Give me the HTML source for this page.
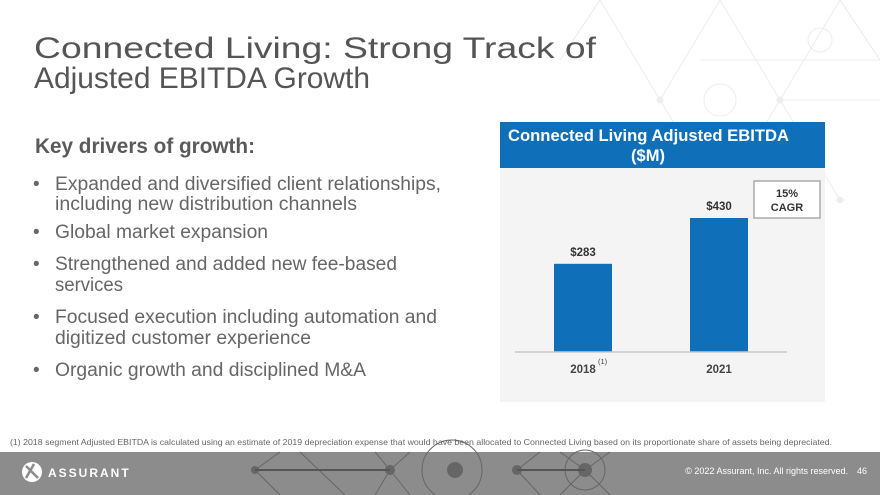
<!DOCTYPE html>
<html><head><meta charset="utf-8"><style>
html,body{margin:0;padding:0;background:#fff;}
svg{display:block;font-family:"Liberation Sans",sans-serif;}
</style></head><body>
<svg width="880" height="495" viewBox="0 0 880 495">
<g stroke="#ededed" stroke-width="1" fill="none">
<path d="M600 0 L660 100 L720 0 M660 100 L720 200 L780 100 L840 200 M720 0 L780 100 L840 0 L880 60 M780 100 L880 100 M700 60 L880 60 M600 0 L560 60"/>
<circle cx="720" cy="100" r="16"/><circle cx="820" cy="40" r="12"/>
<circle cx="660" cy="100" r="3" fill="#ededed"/><circle cx="780" cy="100" r="3" fill="#ededed"/><circle cx="840" cy="200" r="3" fill="#ededed"/>
</g>
<g fill="#555" font-size="30">
<text x="34" y="58" textLength="562" lengthAdjust="spacingAndGlyphs">Connected Living: Strong Track of</text>
<text x="34" y="88" textLength="336" lengthAdjust="spacingAndGlyphs">Adjusted EBITDA Growth</text>
</g>
<text x="35" y="153" font-size="21" font-weight="bold" fill="#5a5a5a" textLength="220" lengthAdjust="spacingAndGlyphs">Key drivers of growth:</text>
<g fill="#666" font-size="19">
<text x="33" y="190">•</text><text x="55" y="190" textLength="386" lengthAdjust="spacingAndGlyphs">Expanded and diversified client relationships,</text>
<text x="55" y="210" textLength="302" lengthAdjust="spacingAndGlyphs">including new distribution channels</text>
<text x="33" y="238">•</text><text x="55" y="238" textLength="213" lengthAdjust="spacingAndGlyphs">Global market expansion</text>
<text x="33" y="270">•</text><text x="55" y="270" textLength="342" lengthAdjust="spacingAndGlyphs">Strengthened and added new fee-based</text>
<text x="55" y="291" textLength="68" lengthAdjust="spacingAndGlyphs">services</text>
<text x="33" y="323">•</text><text x="55" y="323" textLength="382" lengthAdjust="spacingAndGlyphs">Focused execution including automation and</text>
<text x="55" y="344" textLength="256" lengthAdjust="spacingAndGlyphs">digitized customer experience</text>
<text x="33" y="376">•</text><text x="55" y="376" textLength="311" lengthAdjust="spacingAndGlyphs">Organic growth and disciplined M&amp;A</text>
</g>
<g>
<rect x="500" y="168" width="325" height="234" fill="#f4f4f4"/>
<rect x="500" y="122" width="325" height="46" fill="#0f6fb9"/>
<text x="508" y="141" font-size="16.5" font-weight="bold" fill="#fff" textLength="281" lengthAdjust="spacingAndGlyphs">Connected Living Adjusted EBITDA</text>
<text x="648" y="161" font-size="16.5" font-weight="bold" fill="#fff" text-anchor="middle">($M)</text>
<rect x="754" y="181" width="66" height="37" fill="#fff" stroke="#aaa" stroke-width="1.5"/>
<text x="787" y="197" font-size="11" font-weight="bold" fill="#333" text-anchor="middle">15%</text>
<text x="787" y="211" font-size="11" font-weight="bold" fill="#333" text-anchor="middle">CAGR</text>
<g id="bars"></g>
<line x1="515" y1="352" x2="787" y2="352" stroke="#c8c8c8" stroke-width="1.5"/>
</g>
<text x="10" y="445" font-size="8.5" fill="#666" textLength="822" lengthAdjust="spacingAndGlyphs">(1)   2018 segment Adjusted EBITDA is calculated using an estimate of 2019 depreciation expense that would have been allocated to Connected Living based on its proportionate share of assets being depreciated.</text>
<g>
<rect x="0" y="452" width="880" height="43" fill="#8c8c8c"/>
<g stroke="#666" stroke-width="1" fill="none">
<path d="M255 470 L280 452 M255 470 L280 495 M300 452 L345 495 M390 470 L375 452 M390 470 L375 495 M390 470 L410 452 M390 470 L410 495 M517 470 L540 452 M517 470 L540 495 M585 470 L560 452 M585 470 L560 495 M585 470 L610 452 M585 470 L610 495"/>
<circle cx="452" cy="470" r="30"/><circle cx="585" cy="470" r="20"/>
</g>
<g fill="#666"><circle cx="255" cy="470" r="4"/><circle cx="390" cy="470" r="5"/><circle cx="455" cy="470" r="8"/><circle cx="517" cy="470" r="5"/><circle cx="585" cy="470" r="7"/></g>
<path d="M255 470 L390 470 M517 470 L585 470" stroke="#555" stroke-width="2"/>
<circle cx="32" cy="472" r="10" fill="#fff"/>
<path d="M26 466 L38 478 M26 478 L34 464" stroke="#8c8c8c" stroke-width="2.5"/>
<text x="48" y="477" font-size="12" font-weight="bold" fill="#fff" letter-spacing="2">ASSURANT</text>
<text x="848" y="474" font-size="9" fill="#fff" text-anchor="end">© 2022 Assurant, Inc. All rights reserved.</text>
<text x="857" y="474" font-size="9" fill="#fff">46</text>
</g>
</svg>
<script>
const categories = ['2018', '2021'];
const values = [283, 430];
const valueLabels = ['$283', '$430'];
const baseY = 352, scale = 134 / 430;
const centers = [583, 719], barW = 58;
function yOf(v){ return baseY - v * scale; }
const g = document.getElementById('bars');
const ns = 'http://www.w3.org/2000/svg';
categories.forEach((c, i) => {
  const r = document.createElementNS(ns, 'rect');
  r.setAttribute('x', centers[i] - barW/2);
  r.setAttribute('y', yOf(values[i]));
  r.setAttribute('width', barW);
  r.setAttribute('height', baseY - yOf(values[i]));
  r.setAttribute('fill', '#0f6fb9');
  
  
  g.appendChild(r);
  const t = document.createElementNS(ns, 'text');
  t.setAttribute('x', centers[i]);
  t.setAttribute('y', yOf(values[i]) - 8);
  t.setAttribute('text-anchor', 'middle');
  t.setAttribute('font-size', '11.5');
  t.setAttribute('font-weight', 'bold');
  t.setAttribute('fill', '#333');
  t.textContent = valueLabels[i];
  
  
  g.appendChild(t);
  const x = document.createElementNS(ns, 'text');
  x.setAttribute('x', centers[i]);
  x.setAttribute('y', 373);
  x.setAttribute('text-anchor', 'middle');
  x.setAttribute('font-size', '11.5');
  x.setAttribute('font-weight', 'bold');
  x.setAttribute('fill', '#444');
  x.textContent = c;
  
  
  g.appendChild(x);
});
const s = document.createElementNS(ns, 'text');
s.setAttribute('x', 598); s.setAttribute('y', 364);
s.setAttribute('font-size', '7.5'); s.setAttribute('fill', '#444');
s.textContent = '(1)';


g.appendChild(s);
</script>
</body></html>
